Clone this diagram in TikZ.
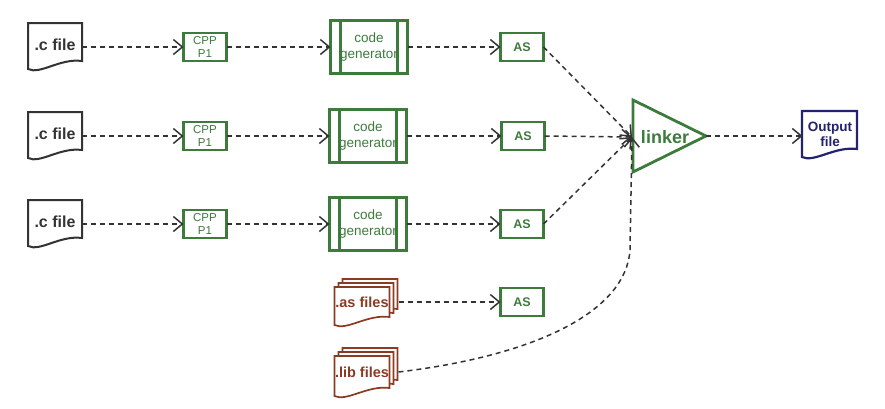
\documentclass[tikz,border=0pt]{standalone}
\usepackage{fontspec}
\setmainfont{Liberation Sans}
\usetikzlibrary{arrows.meta,calc}
\definecolor{grn}{HTML}{3D7B3D}
\definecolor{brn}{HTML}{8A3B22}
\definecolor{nvy}{HTML}{22226E}
\definecolor{ink}{HTML}{333333}
% document shape: cx, cy, w, h, style
\newcommand\docshape[5]{%
  \draw[#5] ({#1-#3/2},{#2-#4/2}) -- ({#1+#3/2},{#2-#4/2}) -- ({#1+#3/2},{#2+#4/2-8})
    .. controls ({#1+#3/2-22},{#2+#4/2-11}) and ({#1-#3/2+12},{#2+#4/2+6}) .. ({#1-#3/2},{#2+#4/2}) -- cycle;}
\begin{document}
\begin{tikzpicture}[x=1pt,y=-1pt,
  conn/.style={draw=ink, line width=1.5pt, dash pattern=on 5pt off 4pt,
    -{Straight Barb[length=9pt,width=15pt,line width=1.5pt]}},
  box/.style={draw=grn, line width=2.8pt, text=grn, minimum width=43pt, minimum height=28pt,
    inner sep=0pt, outer sep=0pt, align=center, font=\fontsize{11.5}{13}\selectfont},
  cgbox/.style={box, minimum width=77pt, minimum height=53pt, font=\fontsize{13.5}{16}\selectfont},
  asbox/.style={box, font=\bfseries\fontsize{12.5}{14}\selectfont},
  docnode/.style={minimum width=54pt, minimum height=46pt, inner sep=0pt, outer sep=0pt, align=center},
  cdoc/.style={draw=ink, line width=2pt, fill=white},
  bdoc/.style={draw=brn, line width=1.7pt, fill=white},
  ndoc/.style={draw=nvy, line width=2.2pt, fill=white},
  ctext/.style={docnode, text=ink, font=\bfseries\fontsize{16}{18}\selectfont},
  btext/.style={docnode, minimum width=55pt, minimum height=30pt, text=brn, font=\bfseries\fontsize{14.5}{16}\selectfont},
]
\useasboundingbox (0,0) rectangle (885,408);

% .c files
\docshape{55}{46}{54}{46}{cdoc}
\docshape{55}{135}{54}{46}{cdoc}
\docshape{55}{223}{54}{46}{cdoc}
\node[ctext] (c1) at (55,47) {\raisebox{4pt}{.c file}};
\node[ctext] (c2) at (55,136) {\raisebox{4pt}{.c file}};
\node[ctext] (c3) at (55,224) {\raisebox{4pt}{.c file}};

% CPP boxes
\node[box] (p1) at (205,47) {CPP\\P1};
\node[box] (p2) at (205,136) {CPP\\P1};
\node[box] (p3) at (205,224) {CPP\\P1};

% code generators
\node[cgbox] (g1) at (369,47) {code\\generator};
\node[cgbox] (g2) at (368,136) {code\\generator};
\node[cgbox] (g3) at (368,224) {code\\generator};
\foreach \g in {g1,g2,g3}{
  \draw[grn, line width=2.8pt] ([xshift=10pt]\g.north west) -- ([xshift=10pt]\g.south west);
  \draw[grn, line width=2.8pt] ([xshift=-10pt]\g.north east) -- ([xshift=-10pt]\g.south east);
}

% AS boxes
\node[asbox] (a1) at (522,47) {AS};
\node[asbox] (a2) at (523,136) {AS};
\node[asbox] (a3) at (522,224) {AS};
\node[asbox] (a4) at (522,302) {AS};

% .as files stack
\docshape{370}{298}{55}{38}{bdoc}
\docshape{366}{302}{55}{38}{bdoc}
\docshape{362}{306}{55}{38}{bdoc}
\node[btext] (asf) at (362,302) {.as files};

% .lib files stack
\docshape{370}{368}{55}{40}{bdoc}
\docshape{366}{372}{55}{40}{bdoc}
\docshape{362}{376}{55}{40}{bdoc}
\node[btext] (lib) at (362,372) {.lib files};

% linker
\draw[grn, line width=2.8pt, line join=miter] (633,100) -- (706,136) -- (633,172) -- cycle;
\node[text=grn, font=\bfseries\fontsize{18}{20}\selectfont, inner sep=0pt] (lk) at (665,137) {linker};
\coordinate (lkin) at (632,137);
\coordinate (lkout) at (706,136);

% output file
\docshape{829.5}{134}{55}{46}{ndoc}
\node[docnode, minimum width=55pt, text=nvy, font=\bfseries\fontsize{13.5}{16}\selectfont] (out) at (830,136) {\raisebox{4pt}{\begin{tabular}{@{}c@{}}Output\\[-1pt]file\end{tabular}}};

% connectors
\draw[conn] (c1.east) -- (p1.west);
\draw[conn] (c2.east) -- (p2.west);
\draw[conn] (c3.east) -- (p3.west);
\draw[conn] (p1.east) -- (g1.west);
\draw[conn] (p2.east) -- (g2.west);
\draw[conn] (p3.east) -- (g3.west);
\draw[conn] (g1.east) -- (a1.west);
\draw[conn] (g2.east) -- (a2.west);
\draw[conn] (g3.east) -- (a3.west);
\draw[conn] (a1.east) -- (lkin);
\draw[conn] (a2.east) -- (lkin);
\draw[conn] (a3.east) -- (lkin);
\draw[conn] ([xshift=9pt]asf.east) -- (a4.west);
\draw[conn] ([xshift=9pt]lib.east) .. controls (540,355) and (626,310) .. (630,250) -- (lkin);
\draw[conn] (lkout) -- (out.west);
\end{tikzpicture}
\end{document}
